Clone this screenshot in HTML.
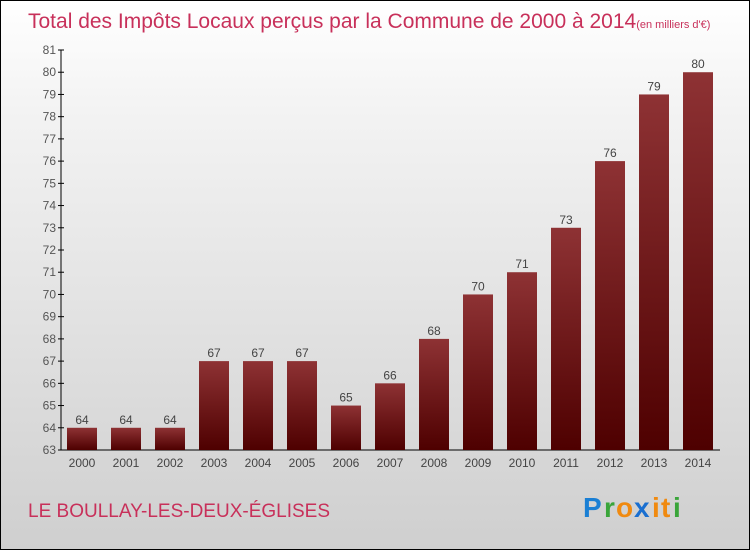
<!DOCTYPE html>
<html><head><meta charset="utf-8"><style>
body{margin:0}
#c{position:relative;width:748px;height:548px;border:1px solid #000;background:linear-gradient(#fff,#f3f3f3 20%,#cfcfcf);font-family:"Liberation Sans",sans-serif;overflow:hidden}
</style></head><body>
<div id="c">
<svg width="748" height="548" id="svg">
<defs><linearGradient id="g" x1="0" y1="0" x2="0" y2="1"><stop offset="0" stop-color="#8e3234"/><stop offset="1" stop-color="#4e0000"/></linearGradient></defs>
<text x="27" y="27" font-size="21" fill="#c8305a">Total des Impôts Locaux perçus par la Commune de 2000 à 2014<tspan font-size="11">(en milliers d'€)</tspan></text>
<text x="27" y="516" font-size="19" fill="#c8305a">LE BOULLAY-LES-DEUX-ÉGLISES</text>
<g font-size="28" font-weight="bold" font-family="Liberation Sans,sans-serif">
<text x="582" y="516" fill="#1a7fd4">P</text><text x="603" y="516" fill="#3aa53a">r</text><text x="615" y="516" fill="#f08a10">o</text><text x="633" y="516" fill="#1a6fd0">x</text><text x="651" y="516" fill="#f08a10">i</text><text x="660" y="516" fill="#f08a10">t</text><text x="672" y="516" fill="#3aa53a">i</text>
</g>
<g id="plot"></g>
</svg></div>
<script>
const years=["2000","2001","2002","2003","2004","2005","2006","2007","2008","2009","2010","2011","2012","2013","2014"];
const values=[64,64,64,67,67,67,65,66,68,70,71,73,76,79,80];
const ticks=[63,64,65,66,67,68,69,70,71,72,73,74,75,76,77,78,79,80,81];
const NS="http://www.w3.org/2000/svg";
const g=document.getElementById('plot');
const y=v=>449-(v-63)*(400/18);
const x=i=>81+i*44;
function el(t,a,txt){const e=document.createElementNS(NS,t);for(const k in a)e.setAttribute(k,a[k]);if(txt!=null)e.textContent=txt;g.appendChild(e);return e;}
let ax=el('line',{x1:60,y1:y(81),x2:60,y2:449,stroke:'#000'});


let bx=el('line',{x1:60,y1:449,x2:719,y2:449,stroke:'#000'});


ticks.forEach(t=>{
 let l=el('line',{x1:57,x2:63,y1:y(t),y2:y(t),stroke:'#000'});
 
 
 let tx=el('text',{x:55,y:y(t)+4,'text-anchor':'end','font-size':12,fill:'#555'},t);
 
 
});
years.forEach((yr,i)=>{
 let b=el('rect',{x:x(i)-15,y:y(values[i]),width:30,height:449-y(values[i]),fill:'url(#g)'});
 
 
 let v=el('text',{x:x(i),y:y(values[i])-4,'text-anchor':'middle','font-size':12,fill:'#444'},values[i]);
 
 
 let xl=el('text',{x:x(i),y:466,'text-anchor':'middle','font-size':12,fill:'#444'},yr);
 
 
});
</script>
</body></html>
